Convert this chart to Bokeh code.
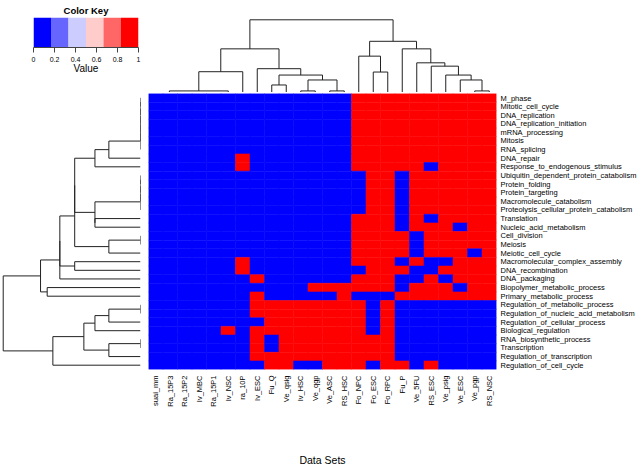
import math
from bokeh.plotting import figure
from bokeh.layouts import column, row
from bokeh.models import (FactorRange, Range1d, LinearColorMapper, FixedTicker,
                          ColumnDataSource, Title)
from bokeh.transform import transform
from bokeh.embed import file_html
from bokeh.resources import INLINE

FONT = "Liberation Sans"

# ---------------- data ----------------
col_labels = ["suai_mm", "Ra_15P3", "Ra_15P2", "Iv_MBC", "Ra_15P1", "Iv_NSC", "ra_10P",
              "Iv_ESC", "Fu_Q", "Ve_qsig", "Iv_HSC", "Ve_qgp", "Ve_ASC", "RS_HSC",
              "Fo_NPC", "Fo_ESC", "Fo_RPC", "Fu_P", "Ve_5FU", "RS_ESC", "Ve_psig",
              "Ve_ESC", "Ve_pgp", "RS_NSC"]

row_labels = ["M_phase", "Mitotic_cell_cycle", "DNA_replication", "DNA_replication_initiation",
              "mRNA_processing", "Mitosis", "RNA_splicing", "DNA_repair",
              "Response_to_endogenous_stimulus", "Ubiquitin_dependent_protein_catabolism",
              "Protein_folding", "Protein_targeting", "Macromolecule_catabolism",
              "Proteolysis_cellular_protein_catabolism", "Translation", "Nucleic_acid_metabolism",
              "Cell_division", "Meiosis", "Meiotic_cell_cycle", "Macromolecular_complex_assembly",
              "DNA_recombination", "DNA_packaging", "Biopolymer_metabolic_process",
              "Primary_metabolic_process", "Regulation_of_metabolic_process",
              "Regulation_of_nucleic_acid_metabolism", "Regulation_of_cellular_process",
              "Biological_regulation", "RNA_biosynthetic_process", "Transcription",
              "Regulation_of_transcription", "Regulation_of_cell_cycle"]

# one string per row (top to bottom), one digit per data set (left to right)
cell_values = [
    "000000000000001111111111",
    "000000000000001111111111",
    "000000000000001111111111",
    "000000000000001111111111",
    "000000000000001111111111",
    "000000000000001111111111",
    "000000000000001111111111",
    "000000100000001111111111",
    "000000100000001111101111",
    "000000000000000110111111",
    "000000000000000110111111",
    "000000000000000110111111",
    "000000000000000110111111",
    "000000000000000110111111",
    "000000000000001110101111",
    "000000000000001110111011",
    "000000000000001111011111",
    "000000000000001111011111",
    "000000000000001111011101",
    "000000100000001110100111",
    "000000100000000111001111",
    "000000010000001110010111",
    "000000000001111110111011",
    "000000010000010001111111",
    "000000011111111010000000",
    "000000011111111010000000",
    "000000001111111010000000",
    "000001011111111010000000",
    "000000010111111110000000",
    "000000010111111110000000",
    "000000011111111110000000",
    "000000001100111011010000",
]

key_palette = ["#0000FF", "#6666FF", "#CCCCFF", "#FFCCCC", "#FF6666", "#FF0000"]
key_ticks = [0, 0.2, 0.4, 0.6, 0.8, 1]
key_tick_labels = ["0", "0.2", "0.4", "0.6", "0.8", "1"]

# column dendrogram (R hclust style: negative = leaf number, positive = earlier merge)
col_merge_a = [-4, -3, -2, -1, 4, 5, -9, -11, -13, 8, 7, -8, 6,
               -16, -15, -23, -22, -21, -20, -19, -18, 15, 13]
col_merge_b = [-5, 1, 2, 3, -6, -7, -10, -12, -14, 9, 10, 11, 12,
               -17, 14, -24, 16, 17, 18, 19, 20, 21, 22]
col_merge_h = [0, 0, 0, 0, 1.0, 2.21, 1.375, 1.0, 1.0, 1.69, 2.0, 2.4, 3.65,
               2.19, 3.19, 1.0, 1.69, 2.0, 2.56, 2.77, 3.65, 4.125, 5.48]

# row dendrogram
row_merge_a = [-1, -3, -4, -5, -6, -7, 6, 7, -10, -12, -13, -14, -15, 12, 8,
               -17, 16, 15, -20, 18, 20, -23, 21, -25, 24, 25, -29, 27, 26, 29, 23]
row_merge_b = [-2, 1, 2, 3, 4, 5, -8, -9, -11, 9, 10, 11, -16, 13, 14,
               -18, -19, 17, -21, 19, -22, -24, 22, -26, -27, -28, -30, -31, 28, -32, 30]
row_merge_h = [0, 0, 0, 0, 0, 0, 1.0, 1.44, 0, 0, 0, 0, 1.44, 1.44, 2.08,
               0, 1.0, 2.08, 2.08, 2.55, 2.55, 2.95, 3.16, 0, 1.0, 1.44, 0, 1.0, 1.79, 2.77, 4.34]


def dendro_paths(a, b, h):
    pos, hts = {}, {}
    leaf_pos, heights = [], []
    for k, (i, j, hh) in enumerate(zip(a, b, h), start=1):
        def get(n):
            if n < 0:
                return (-n - 1) + 0.5, 0.0
            return pos[n], hts[n]
        xi, hi = get(i)
        xj, hj = get(j)
        leaf_pos.append([xi, xi, xj, xj])
        heights.append([hi, hh, hh, hj])
        pos[k] = (xi + xj) / 2.0
        hts[k] = hh
    return leaf_pos, heights


def clean(p):
    p.xaxis.visible = False
    p.yaxis.visible = False
    p.xgrid.visible = False
    p.ygrid.visible = False
    p.outline_line_color = None
    p.background_fill_color = "white"
    p.border_fill_color = "white"


ncol, nrow = len(col_labels), len(row_labels)

# ---------------- color key ----------------
p_key = figure(frame_width=105, frame_height=30, x_range=Range1d(0, 1), y_range=Range1d(0, 1),
               output_backend="svg", toolbar_location=None,
               min_border_left=33, min_border_right=10, min_border_top=16, min_border_bottom=46)
p_key.title = Title(text="Color Key", align="center", text_font=FONT, text_font_size="9.5px",
                    text_font_style="bold", text_color="black", standoff=4, offset=0)
nb = len(key_palette)
p_key.quad(left=[i / nb for i in range(nb)], right=[(i + 1) / nb for i in range(nb)],
           bottom=0, top=1, fill_color=key_palette, line_color=None)
p_key.xgrid.visible = False
p_key.ygrid.visible = False
p_key.yaxis.visible = False
p_key.outline_line_color = None
p_key.xaxis.ticker = FixedTicker(ticks=key_ticks)
p_key.xaxis.major_label_overrides = {t: l for t, l in zip(key_ticks, key_tick_labels)}
p_key.xaxis.minor_tick_line_color = None
p_key.xaxis.major_tick_out = 5
p_key.xaxis.major_tick_in = 0
p_key.xaxis.axis_line_color = "#444444"
p_key.xaxis.major_tick_line_color = "#444444"
p_key.xaxis.major_label_text_font = FONT
p_key.xaxis.major_label_text_font_size = "7px"
p_key.xaxis.major_label_text_color = "black"
p_key.xaxis.major_label_standoff = 4
p_key.xaxis.axis_label = "Value"
p_key.xaxis.axis_label_text_font = FONT
p_key.xaxis.axis_label_text_font_size = "10px"
p_key.xaxis.axis_label_text_font_style = "normal"
p_key.xaxis.axis_label_text_color = "black"
p_key.xaxis.axis_label_standoff = -2

# ---------------- column dendrogram ----------------
cx, ch = dendro_paths(col_merge_a, col_merge_b, col_merge_h)
hmax_c = max(col_merge_h)
p_cd = figure(frame_width=348, frame_height=92, x_range=Range1d(0, ncol),
              y_range=Range1d(-0.031 * hmax_c, 1.0264 * hmax_c),
              output_backend="svg", toolbar_location=None,
              min_border_left=0, min_border_right=142, min_border_top=0, min_border_bottom=0)
p_cd.multi_line(xs=cx, ys=ch, line_color="#222222", line_width=1)
clean(p_cd)

# ---------------- row dendrogram ----------------
ry, rh = dendro_paths(row_merge_a, row_merge_b, row_merge_h)
hmax_r = max(row_merge_h)
p_rd = figure(frame_width=140, frame_height=276, x_range=Range1d(hmax_r * 1.0197, 0),
              y_range=Range1d(nrow, 0),
              output_backend="svg", toolbar_location=None,
              min_border_left=0, min_border_right=8, min_border_top=0, min_border_bottom=100)
p_rd.multi_line(xs=rh, ys=ry, line_color="#222222", line_width=1)
clean(p_rd)

# ---------------- heatmap ----------------
xs, ys, vs = [], [], []
for r, rowname in enumerate(row_labels):
    for c, colname in enumerate(col_labels):
        xs.append(colname)
        ys.append(rowname)
        vs.append(int(cell_values[r][c]))
src = ColumnDataSource(dict(x=xs, y=ys, v=vs))
mapper = LinearColorMapper(palette=key_palette, low=0, high=1)

p = figure(frame_width=348, frame_height=276,
           x_range=FactorRange(*col_labels), y_range=FactorRange(*reversed(row_labels)),
           x_axis_location="below", y_axis_location="right",
           output_backend="svg", toolbar_location=None,
           min_border_left=0, min_border_right=142, min_border_top=0, min_border_bottom=100)
p.rect(x="x", y="y", width=1, height=1, source=src,
       fill_color=transform("v", mapper), line_color=transform("v", mapper), line_width=0.5)
p.xgrid.visible = False
p.ygrid.visible = False
p.outline_line_color = None
p.background_fill_color = "white"

p.yaxis.axis_line_color = None
p.yaxis.major_tick_line_color = None
p.yaxis.minor_tick_line_color = None
p.yaxis.major_tick_out = 0
p.yaxis.major_tick_in = 0
p.yaxis.major_label_text_font = FONT
p.yaxis.major_label_text_font_size = "7.5px"
p.yaxis.major_label_text_color = "black"
p.yaxis.major_label_standoff = 4

p.xaxis.axis_line_color = None
p.xaxis.major_tick_line_color = None
p.xaxis.minor_tick_line_color = None
p.xaxis.major_tick_out = 0
p.xaxis.major_tick_in = 0
p.xaxis.major_label_orientation = math.pi / 2
p.xaxis.major_label_text_font = FONT
p.xaxis.major_label_text_font_size = "7.5px"
p.xaxis.major_label_text_color = "black"
p.xaxis.major_label_standoff = 6
p.xaxis.axis_label = "Data Sets"
p.xaxis.axis_label_text_font = FONT
p.xaxis.axis_label_text_font_size = "10.5px"
p.xaxis.axis_label_text_font_style = "normal"
p.xaxis.axis_label_text_color = "black"
p.xaxis.axis_label_standoff = 44

layout = column(row(p_key, p_cd), row(p_rd, p))
open("out.html", "w").write(file_html(layout, INLINE))
